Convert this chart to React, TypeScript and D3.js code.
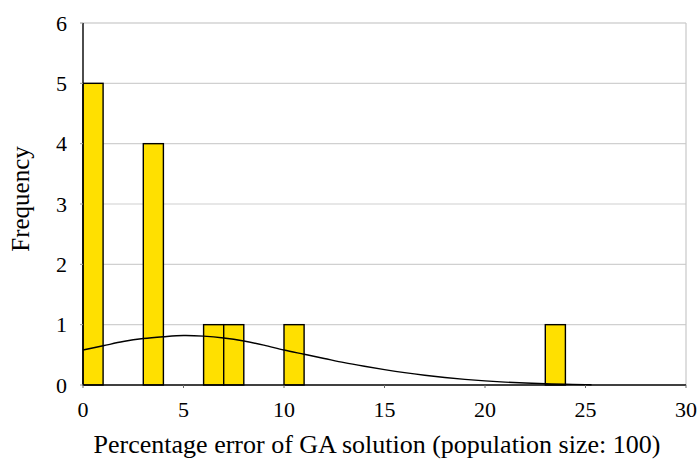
import * as d3 from "d3";

// histogram bins (lower edge, width 1) and counts
const BIN_START = [0, 3, 6, 7, 10, 23];
const BIN_COUNT = [5, 4, 1, 1, 1, 1];

// fitted normal curve
const CURVE_X = [0, 1, 2, 3, 4, 5, 6, 7, 8, 9, 10, 11, 12, 13, 14, 15, 16, 17, 18, 19, 20, 21, 22, 23, 24, 25, 25.3];
const CURVE_Y = [0.58, 0.65, 0.72, 0.77, 0.8, 0.82, 0.81, 0.78, 0.73, 0.66, 0.58, 0.51, 0.44, 0.37, 0.31, 0.255, 0.205, 0.162, 0.125, 0.094, 0.068, 0.048, 0.032, 0.02, 0.012, 0.006, 0.005];

const X_TICKS = [0, 5, 10, 15, 20, 25, 30];
const Y_TICKS = [0, 1, 2, 3, 4, 5, 6];

const W = 700;
const H = 459;
const M = { left: 83, right: 14, top: 23, bottom: 74 };
const FONT = "Liberation Serif, DejaVu Serif, serif";

export default function App() {
  const x = d3.scaleLinear().domain([0, 30]).range([M.left, W - M.right]);
  const y = d3.scaleLinear().domain([0, 6]).range([H - M.bottom, M.top]);

  const line = d3
    .line<number>()
    .x((_, i) => x(CURVE_X[i]))
    .y((d) => y(d))
    .curve(d3.curveCatmullRom);

  return (
    <svg
      width={W}
      height={H}
      style={{ position: "absolute", left: 0, top: 0, background: "#fff", fontFamily: FONT }}
    >
      {/* gridlines */}
      {Y_TICKS.filter((t) => t > 0).map((t) => (
        <line
          key={t}
          x1={x(0)}
          x2={x(30)}
          y1={y(t)}
          y2={y(t)}
          stroke={t === 6 ? "#bdbdbd" : "#d0d0d0"}
          strokeWidth={1.2}
        />
      ))}
      <line x1={x(30)} x2={x(30)} y1={y(6)} y2={y(0)} stroke="#c8c8c8" strokeWidth={1.2} />

      {/* bars */}
      {BIN_START.map((b, i) => (
        <rect
          key={i}
          x={x(b)}
          y={y(BIN_COUNT[i])}
          width={x(b + 1) - x(b)}
          height={y(0) - y(BIN_COUNT[i])}
          fill="#FFE000"
          stroke="#000"
          strokeWidth={1.4}
        />
      ))}

      {/* normal curve */}
      <path d={line(CURVE_Y) ?? ""} fill="none" stroke="#000" strokeWidth={1.4} />

      {/* axes */}
      <line x1={x(0)} x2={x(0)} y1={y(6)} y2={y(0)} stroke="#000" strokeWidth={1.4} />
      <line x1={x(0)} x2={x(30)} y1={y(0)} y2={y(0)} stroke="#000" strokeWidth={1.4} />

      {Y_TICKS.map((t) => (
        <g key={t}>
          <line x1={x(0) - 3} x2={x(0)} y1={y(t)} y2={y(t)} stroke="#999" strokeWidth={1} />
          <text x={67} y={y(t)} dy="0.35em" textAnchor="end" fontSize={22}>
            {t}
          </text>
        </g>
      ))}

      {X_TICKS.map((t) => (
        <g key={t}>
          <line x1={x(t)} x2={x(t)} y1={y(0)} y2={y(0) + 3} stroke="#666" strokeWidth={1} />
          <text x={x(t)} y={417} textAnchor="middle" fontSize={22}>
            {t}
          </text>
        </g>
      ))}

      <text x={377} y={453} textAnchor="middle" fontSize={26}>
        Percentage error of GA solution (population size: 100)
      </text>
      <text
        transform={`translate(29, ${(y(0) + y(6)) / 2 - 5}) rotate(-90)`}
        textAnchor="middle"
        fontSize={25}
      >
        Frequency
      </text>
    </svg>
  );
}
